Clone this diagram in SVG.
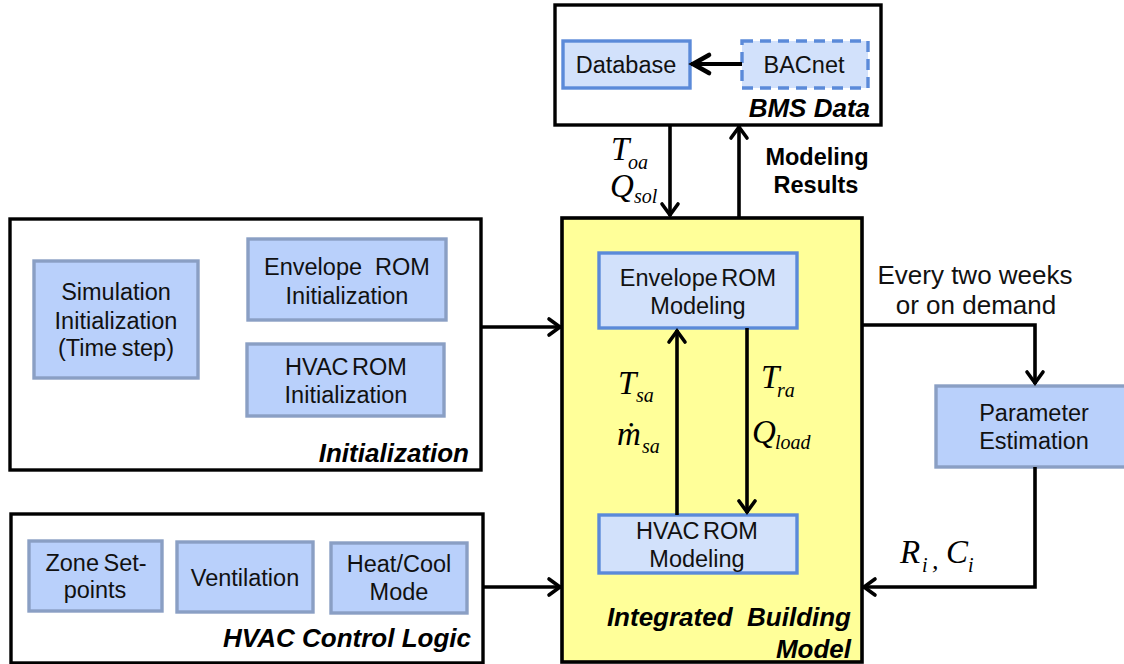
<svg xmlns="http://www.w3.org/2000/svg" width="1124" height="664" viewBox="0 0 1124 664">
<defs>
<marker id="a" markerUnits="userSpaceOnUse" markerWidth="20" markerHeight="24" refX="15" refY="12" orient="auto" overflow="visible"><path d="M3,4 L14,12 L3,20" fill="none" stroke="#000" stroke-width="3.6" stroke-linecap="round"/></marker>
<marker id="b" markerUnits="userSpaceOnUse" markerWidth="26" markerHeight="28" refX="21" refY="14" orient="auto" overflow="visible"><path d="M3,5 L19,14 L3,23" fill="none" stroke="#000" stroke-width="4.6" stroke-linecap="round"/></marker>
</defs>
<style>
text{font-family:"Liberation Sans",Arial,sans-serif;font-size:23.5px;fill:#111;text-anchor:middle}
.cap{font-weight:bold;font-style:italic;font-size:26px;text-anchor:end;fill:#000}
.bold{font-weight:bold;font-size:23.5px;fill:#000}
.big{font-size:26px}
.frame{fill:#fff;stroke:#000;stroke-width:3.4}
.light{fill:#d2e1fb;stroke:#5b8ad9;stroke-width:3.4}
.mid{fill:#b9d0fb;stroke:#8a9fc4;stroke-width:3.4}
.m{font-family:"Liberation Serif","Times New Roman",serif;font-style:italic;font-size:33px;fill:#000;text-anchor:start}
.s{font-size:20px}
.c{fill:none;stroke:#000;stroke-width:3.6;marker-end:url(#a)}
</style>
<g id="bms"><rect class="frame" x="555" y="5" width="326" height="120"/><text class="cap" x="870" y="117">BMS Data</text></g>
<g id="database"><rect class="light" x="563" y="41" width="127" height="47"/><text x="626" y="73">Database</text></g>
<g id="bacnet"><rect x="742" y="41" width="126" height="47" fill="#d2e1fb" stroke="#5b8ad9" stroke-width="3.4" stroke-dasharray="11 7"/><text x="804" y="73">BACnet</text></g>
<g id="initialization"><rect class="frame" x="10" y="219" width="471" height="251"/><text class="cap" x="469" y="462">Initialization</text></g>
<g id="sim-init"><rect class="mid" x="34" y="261" width="164" height="117"/><text x="116" y="300">Simulation</text><text x="116" y="329">Initialization</text><text x="116" y="356" word-spacing="-2">(Time step)</text></g>
<g id="env-init"><rect class="mid" x="248" y="239" width="198" height="81"/><text x="347" y="275">Envelope&#160;&#160;ROM</text><text x="347" y="304">Initialization</text></g>
<g id="hvac-init"><rect class="mid" x="247" y="344" width="197" height="72"/><text x="346" y="375" word-spacing="-3">HVAC ROM</text><text x="346" y="403">Initialization</text></g>
<g id="hvac-logic"><rect class="frame" x="11" y="514" width="472" height="149"/><text class="cap" x="471" y="647">HVAC Control Logic</text></g>
<g id="zone"><rect class="mid" x="29" y="541" width="133" height="70"/><text x="96" y="571" word-spacing="-2">Zone Set-</text><text x="95" y="598">points</text></g>
<g id="ventilation"><rect class="mid" x="177" y="542" width="136" height="70"/><text x="245" y="586">Ventilation</text></g>
<g id="mode"><rect class="mid" x="331" y="543" width="136" height="70"/><text x="399" y="572">Heat/Cool</text><text x="399" y="600">Mode</text></g>
<g id="integrated"><rect x="562" y="218" width="300" height="444" fill="#ffff99" stroke="#000" stroke-width="3.6"/><text class="cap" x="851" y="626">Integrated&#160;&#160;Building</text><text class="cap" x="851" y="658">Model</text></g>
<g id="env-model"><rect class="light" x="599" y="253" width="198" height="75"/><text x="698" y="286" word-spacing="-3">Envelope ROM</text><text x="698" y="314">Modeling</text></g>
<g id="hvac-model"><rect class="light" x="599" y="515" width="198" height="58"/><text x="697" y="539" word-spacing="-3">HVAC ROM</text><text x="697" y="567">Modeling</text></g>
<g id="param"><rect class="mid" x="936" y="386" width="195" height="81"/><text x="1034" y="421">Parameter</text><text x="1034" y="449">Estimation</text></g>
<g id="connectors">
<path class="c" style="stroke-width:4.2;marker-end:url(#b)" d="M742,64 H691"/>
<path class="c" d="M670,126 V216"/>
<path class="c" d="M739,217 V126"/>
<path class="c" d="M481,327 H561"/>
<path class="c" d="M483,587 H561"/>
<path class="c" d="M677,515 V330"/>
<path class="c" d="M747,328 V513"/>
<path class="c" d="M862,325 H1035 V384"/>
<path class="c" d="M1035,467 V587 H863"/>
</g>
<g id="labels">
<text class="bold" x="817" y="165">Modeling</text><text class="bold" x="816" y="193">Results</text>
<text class="big" x="975" y="284">Every two weeks</text><text class="big" x="976" y="314">or on demand</text>
<text class="m" x="611" y="160">T<tspan class="s" x="628" y="169">oa</tspan></text>
<text class="m" x="610" y="197">Q<tspan class="s" x="634" y="203">sol</tspan></text>
<text class="m" x="618" y="394">T<tspan class="s" x="636" y="402">sa</tspan></text>
<text class="m" x="617" y="445">ṁ<tspan class="s" x="642" y="453">sa</tspan></text>
<text class="m" x="761" y="388">T<tspan class="s" x="777" y="397">ra</tspan></text>
<text class="m" x="752" y="443">Q<tspan class="s" x="775" y="449">load</tspan></text>
<text class="m" x="900" y="563">R<tspan class="s" x="922" y="572">i</tspan><tspan x="932" y="569" style="font-size:26px">,</tspan><tspan x="946" y="563">C</tspan><tspan class="s" x="968" y="572">i</tspan></text>
</g>
</svg>
